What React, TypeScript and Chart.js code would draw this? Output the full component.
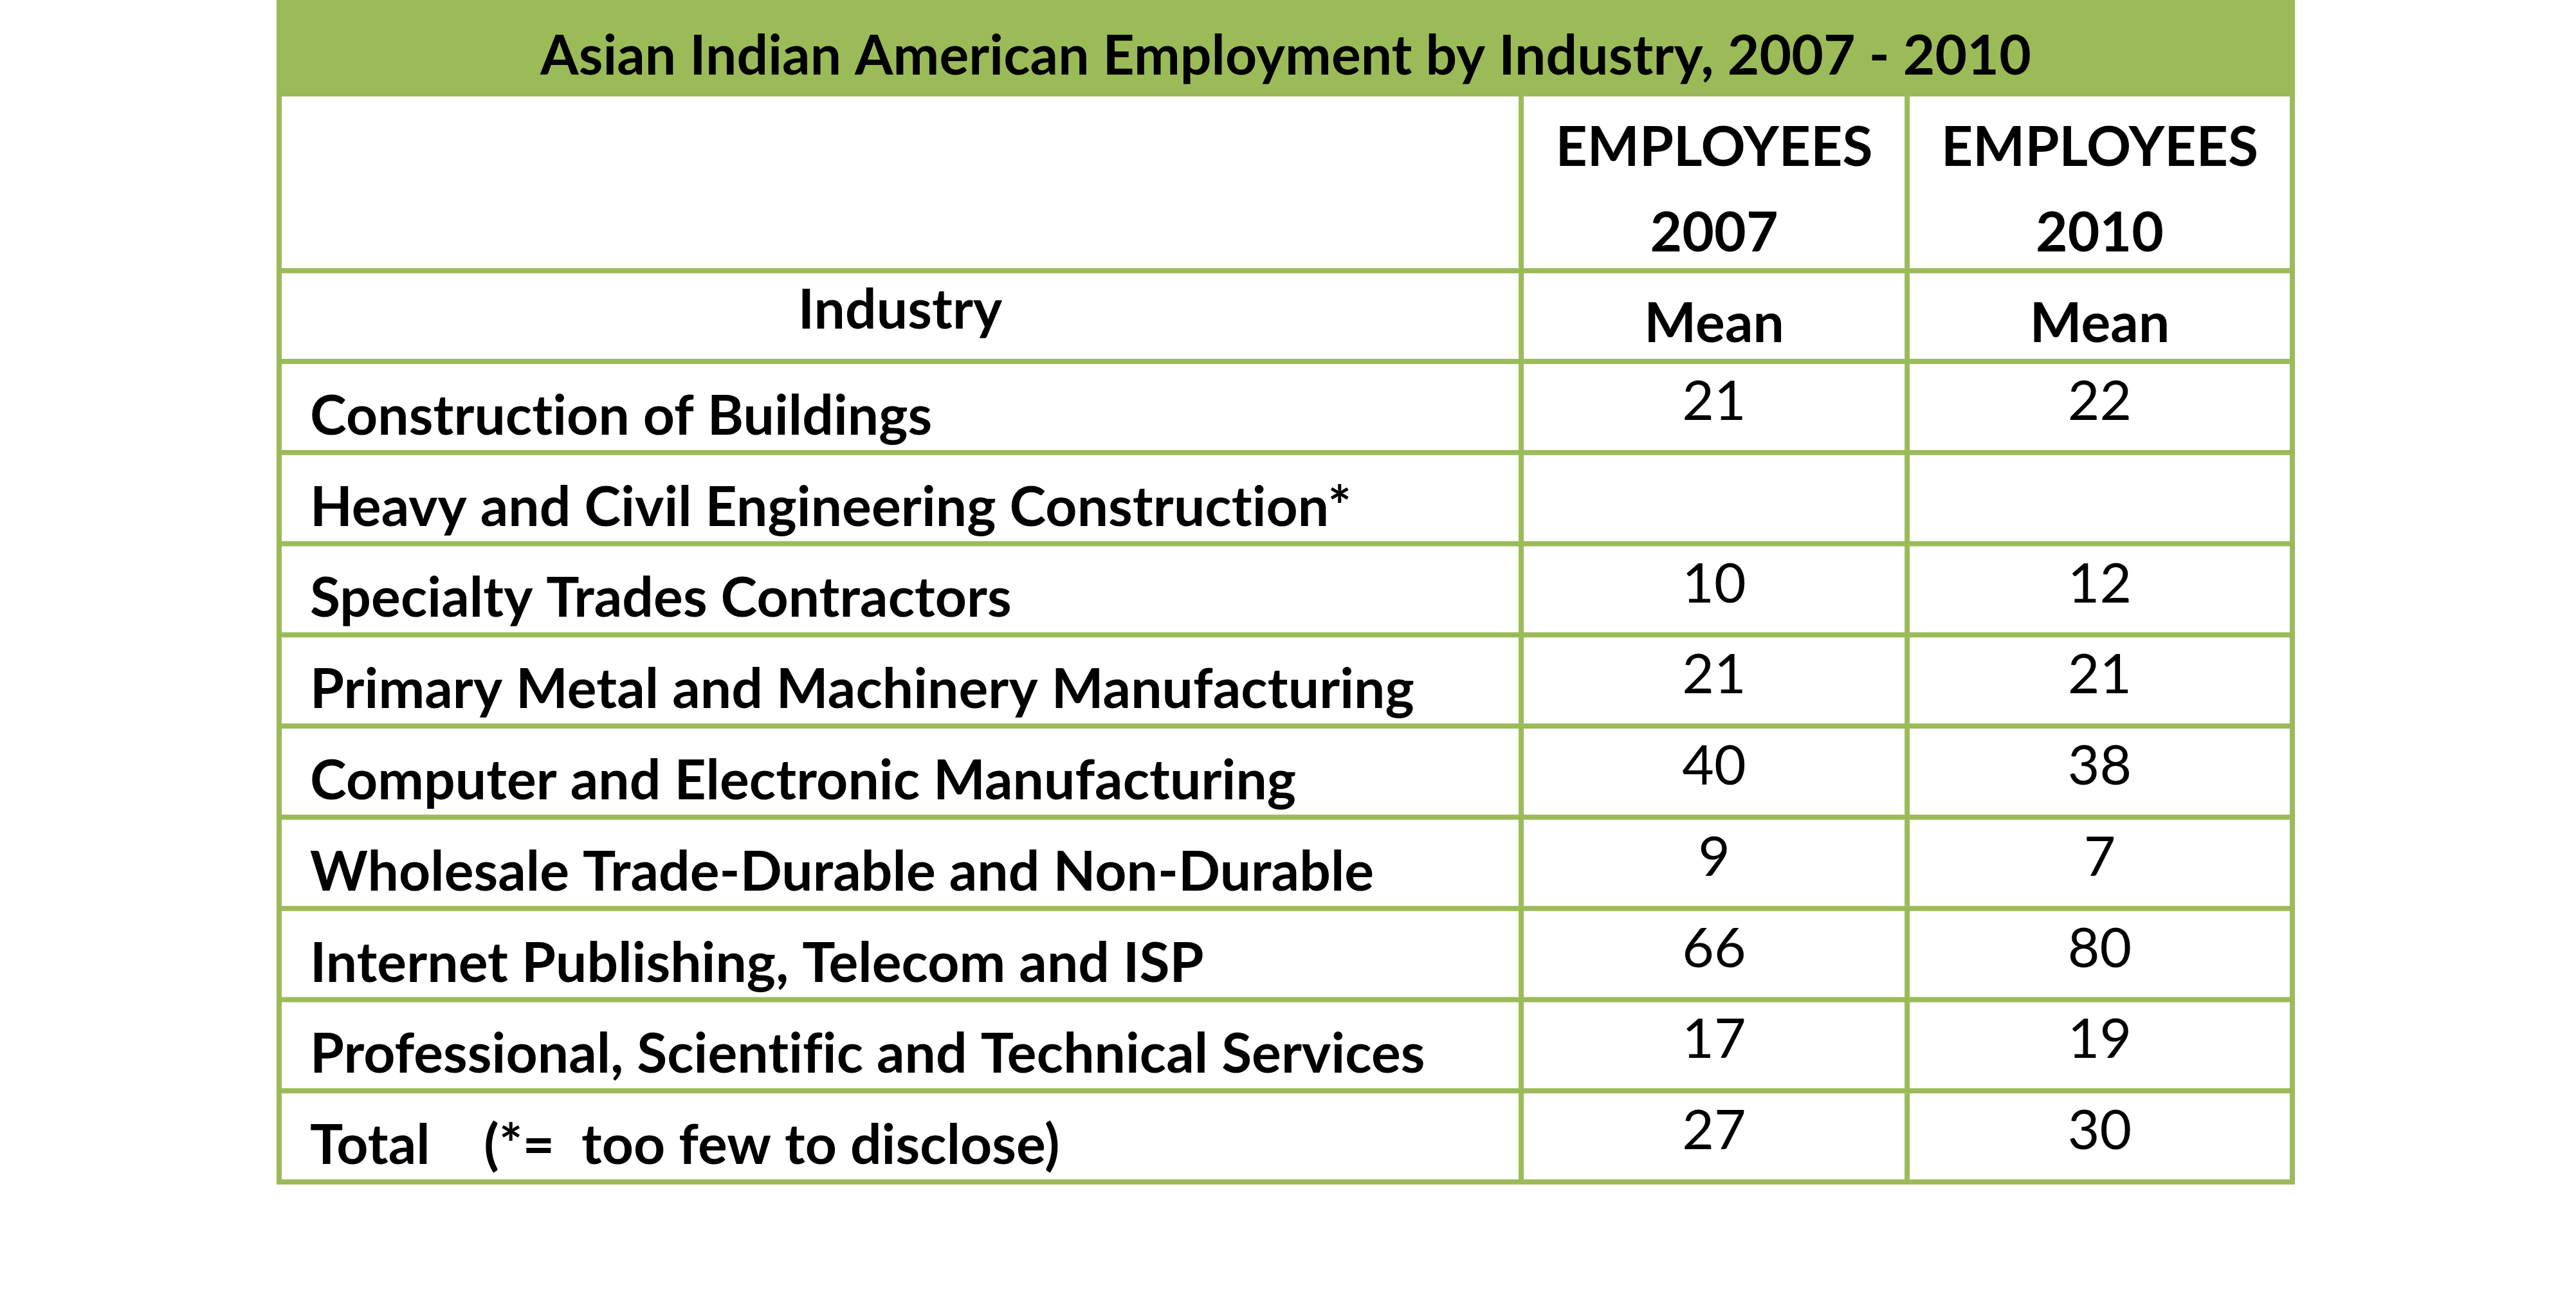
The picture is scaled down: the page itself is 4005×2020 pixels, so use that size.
import React, { useEffect, useRef } from "react";
import { Chart, registerables } from "chart.js";

Chart.register(...registerables);

// ---------- data ----------
const TITLE = "Asian Indian American Employment by Industry, 2007 - 2010";
const HEADER_TOP = ["EMPLOYEES", "EMPLOYEES"];
const HEADER_YEARS = ["2007", "2010"];
const HEADER_INDUSTRY = "Industry";
const HEADER_STAT = ["Mean", "Mean"];
const INDUSTRIES = [
  "Construction of Buildings",
  "Heavy and Civil Engineering Construction*",
  "Specialty Trades Contractors",
  "Primary Metal and Machinery Manufacturing",
  "Computer and Electronic Manufacturing",
  "Wholesale Trade-Durable and Non-Durable",
  "Internet Publishing, Telecom and ISP",
  "Professional, Scientific and Technical Services",
  "Total    (*=  too few to disclose)",
];
const MEAN_2007: (number | null)[] = [21, null, 10, 21, 40, 9, 66, 17, 27];
const MEAN_2010: (number | null)[] = [22, null, 12, 21, 38, 7, 80, 19, 30];

// ---------- layout (scale units) ----------
const W = 4005;
const H = 2020;
const GREEN = "#9BBB59";
const COL_WIDTHS = [3.218, 1.0, 0.998];
const TITLE_H = 1.058;
const HEAD1_H = 1.911;
const HEAD2_H = 0.994;
const X_MAX = COL_WIDTHS.reduce((a, b) => a + b, 0);
const BODY_TOP = TITLE_H + HEAD1_H + HEAD2_H;
const Y_MAX = BODY_TOP + INDUSTRIES.length;
const LABEL_X = 0.08;
const LABEL_FIT = 2.888; // width of the "Professional..." label in x units
const LINE_W = 8;

const colStart = (i: number) => COL_WIDTHS.slice(0, i).reduce((a, b) => a + b, 0);
const colCenter = (i: number) => colStart(i) + COL_WIDTHS[i] / 2;

const tablePlugin = {
  id: "tableDraw",
  afterDatasetsDraw(chart: any) {
    const { ctx } = chart;
    const xs = chart.scales.x;
    const ys = chart.scales.y;
    const px = (v: number) => xs.getPixelForValue(v);
    const py = (v: number) => ys.getPixelForValue(v);
    const unit = Math.abs(py(1) - py(0));
    const half = LINE_W / 2;

    ctx.save();
    try {
      (ctx as any).letterSpacing = "0.1px";
    } catch (e) {}
    // font fit
    ctx.font = "bold 100px Lato";
    const mw = ctx.measureText(INDUSTRIES[7]).width;
    const fs = (100 * (px(LABEL_FIT) - px(0))) / mw;
    const bold = `bold ${fs}px Lato`;
    const regular = `normal ${fs}px Lato`;

    // title band
    ctx.fillStyle = GREEN;
    ctx.fillRect(px(0) - half, py(0), px(X_MAX) - px(0) + LINE_W, py(TITLE_H) - py(0));

    // horizontal rules
    ctx.strokeStyle = GREEN;
    ctx.lineWidth = LINE_W;
    const rows: number[] = [TITLE_H + HEAD1_H, BODY_TOP];
    for (let i = 1; i <= INDUSTRIES.length; i++) rows.push(BODY_TOP + i);
    rows.forEach((r) => {
      ctx.beginPath();
      ctx.moveTo(px(0) - half, py(r));
      ctx.lineTo(px(X_MAX) + half, py(r));
      ctx.stroke();
    });
    // vertical rules
    [0, colStart(1), colStart(2), X_MAX].forEach((c) => {
      ctx.beginPath();
      ctx.moveTo(px(c), py(TITLE_H));
      ctx.lineTo(px(c), py(Y_MAX) + half);
      ctx.stroke();
    });

    // header text
    ctx.fillStyle = "#000";
    ctx.textAlign = "center";
    ctx.textBaseline = "alphabetic";
    ctx.font = bold;
    ctx.fillText(TITLE, px(X_MAX / 2), py(0.818));
    HEADER_TOP.forEach((t, i) => ctx.fillText(t, px(colCenter(i + 1)), py(TITLE_H + 0.761)));
    HEADER_YEARS.forEach((t, i) => ctx.fillText(t, px(colCenter(i + 1)), py(TITLE_H + 1.699)));
    ctx.fillText(HEADER_INDUSTRY, px(colCenter(0)), py(TITLE_H + HEAD1_H + 0.635));
    HEADER_STAT.forEach((t, i) => ctx.fillText(t, px(colCenter(i + 1)), py(TITLE_H + HEAD1_H + 0.783)));

    // body text from dataset elements
    chart.data.datasets.forEach((ds: any, di: number) => {
      const meta = chart.getDatasetMeta(di);
      meta.data.forEach((el: any, j: number) => {
        const d = ds.data[j];
        if (ds.kind === "label") {
          ctx.font = bold;
          ctx.textAlign = "left";
          ctx.fillText(d.t, el.x, el.y + 0.304 * unit);
        } else {
          ctx.font = regular;
          ctx.textAlign = "center";
          ctx.fillText(String(d.t), el.x, el.y + 0.142 * unit);
        }
      });
    });
    ctx.restore();
  },
};

const rowCenter = (i: number) => BODY_TOP + i + 0.5;

export default function App() {
  const ref = useRef<HTMLCanvasElement | null>(null);
  useEffect(() => {
    document.body.style.margin = "0";
    if (!ref.current) return;
    const valuePoints = (arr: (number | null)[], col: number) =>
      arr
        .map((v, i) => (v == null ? null : { x: colCenter(col), y: rowCenter(i), t: v }))
        .filter((p) => p !== null);
    const chart = new Chart(ref.current, {
      type: "scatter",
      data: {
        datasets: [
          {
            label: "Industry",
            kind: "label",
            data: INDUSTRIES.map((t, i) => ({ x: LABEL_X, y: rowCenter(i), t })),
            pointRadius: 0,
          } as any,
          { label: "2007", kind: "value", data: valuePoints(MEAN_2007, 1), pointRadius: 0 } as any,
          { label: "2010", kind: "value", data: valuePoints(MEAN_2010, 2), pointRadius: 0 } as any,
        ],
      },
      options: {
        animation: false,
        responsive: false,
        devicePixelRatio: 1,
        events: [],
        layout: { padding: { left: 434, right: W - 3564, top: 0, bottom: H - 1838 } },
        plugins: { legend: { display: false }, tooltip: { enabled: false }, title: { display: false } },
        scales: {
          x: { type: "linear", min: 0, max: X_MAX, display: false },
          y: { type: "linear", min: 0, max: Y_MAX, reverse: true, display: false },
        },
      },
      plugins: [tablePlugin],
    });
    return () => chart.destroy();
  }, []);
  return (
    <div style={{ position: "absolute", left: 0, top: 0, width: W, height: H, background: "#fff" }}>
      <canvas ref={ref} width={W} height={H} style={{ display: "block", width: W, height: H }} />
    </div>
  );
}
